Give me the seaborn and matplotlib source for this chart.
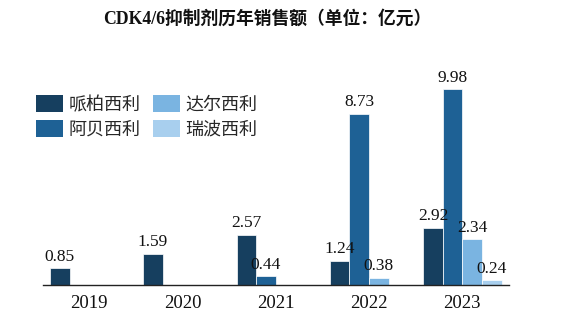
import matplotlib
matplotlib.use("Agg")
import matplotlib.pyplot as plt
import seaborn as sns
import pandas as pd
import numpy as np
from matplotlib.patches import Patch

years = ["2019", "2020", "2021", "2022", "2023"]
drugs = ["哌柏西利", "阿贝西利", "达尔西利", "瑞波西利"]
palbociclib = [0.85, 1.59, 2.57, 1.24, 2.92]
abemaciclib = [np.nan, np.nan, 0.44, 8.73, 9.98]
dalpiciclib = [np.nan, np.nan, np.nan, 0.38, 2.34]
ribociclib = [np.nan, np.nan, np.nan, np.nan, 0.24]
colors = ["#163F5F", "#1E6195", "#7AB4E1", "#A8CFEE"]

series = [palbociclib, abemaciclib, dalpiciclib, ribociclib]
rows = []
for d, vals in zip(drugs, series):
    for y, v in zip(years, vals):
        rows.append({"year": y, "drug": d, "value": v})
df = pd.DataFrame(rows)
df_plot = df.dropna()

sns.set_style("white")
plt.rcParams["font.family"] = ["Liberation Serif", "Noto Sans CJK SC", "DejaVu Sans"]

fig = plt.figure(figsize=(5.62, 3.24), dpi=100)
W, H = 562, 324
ax = fig.add_axes([42.5 / W, 1 - 285 / H, (509 - 42.5) / W, 225 / H])

sns.barplot(data=df_plot, x="year", y="value", hue="drug", order=years,
            hue_order=drugs, palette=colors, saturation=1, width=0.84, ax=ax,
            edgecolor="white", linewidth=0.5, legend=False, errorbar=None)

for cont in ax.containers:
    ax.bar_label(cont, fmt="%.2f", padding=2.5, fontsize=12.5,
                 family="Liberation Serif", color="#111111")

ax.set_xlim(-0.5, 4.5)
ax.set_ylim(0, 11.48)
ax.set_xlabel("")
ax.set_ylabel("")
ax.set_yticks([])
ax.tick_params(axis="x", length=0, pad=7, labelsize=13.5, labelcolor="#111111")
for lab in ax.get_xticklabels():
    lab.set_family("Liberation Serif")
for s in ["top", "right", "left"]:
    ax.spines[s].set_visible(False)
ax.spines["bottom"].set_color("#222222")
ax.spines["bottom"].set_linewidth(1.0)

handles = [Patch(facecolor=c, edgecolor="none") for c in colors]
fig.legend(handles, drugs, loc="upper left",
           bbox_to_anchor=(36 / W, 1 - 95 / H), ncol=2, frameon=False,
           borderpad=0, borderaxespad=0, handlelength=1.5, handleheight=1.1,
           handletextpad=0.3, columnspacing=0.7, labelspacing=0.35,
           prop={"family": ["Noto Sans CJK SC"], "size": 13})

fig.text(267 / W, 1 - 19 / H, "CDK4/6抑制剂历年销售额（单位：亿元）",
         ha="center", va="center", fontsize=12.8, fontweight="bold",
         family=["Liberation Serif", "Noto Sans CJK SC"], color="#111111")

fig.savefig("out.png", dpi=100)
